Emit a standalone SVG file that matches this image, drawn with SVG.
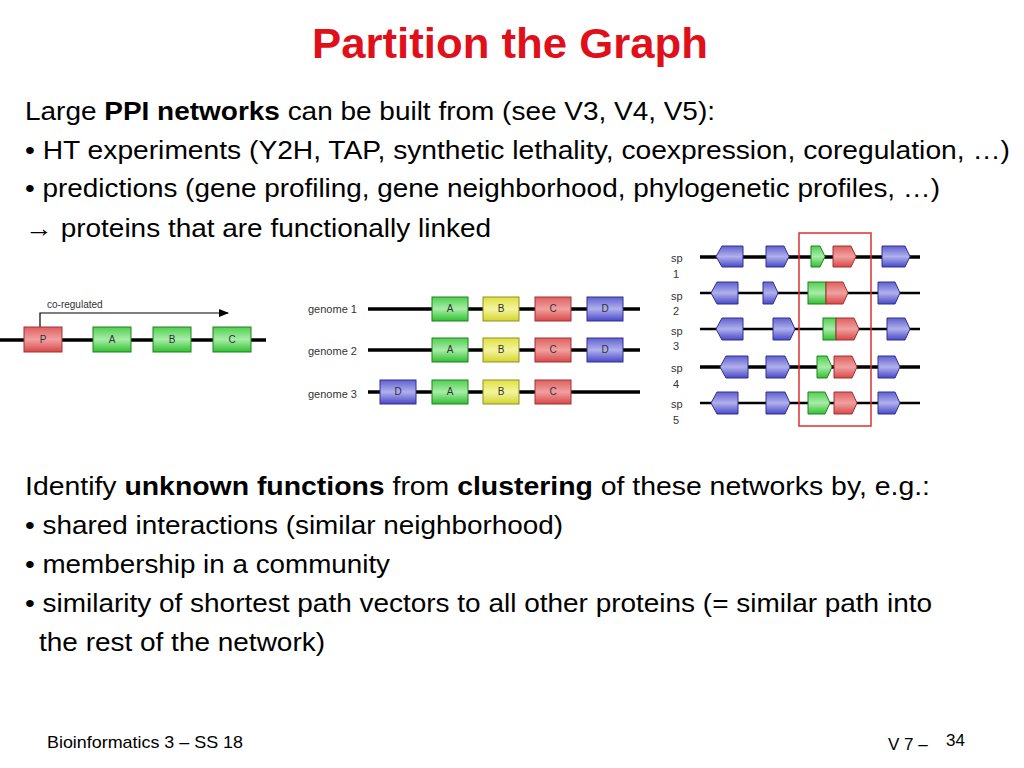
<svg xmlns="http://www.w3.org/2000/svg" width="1024" height="768" viewBox="0 0 1024 768">
<defs>
<linearGradient id="gr" x1="0" y1="0" x2="0" y2="1"><stop offset="0" stop-color="#e06060"/><stop offset="0.5" stop-color="#f0a0a0"/><stop offset="1" stop-color="#d84848"/></linearGradient>
<linearGradient id="gg" x1="0" y1="0" x2="0" y2="1"><stop offset="0" stop-color="#50d050"/><stop offset="0.5" stop-color="#a8eca8"/><stop offset="1" stop-color="#30c030"/></linearGradient>
<linearGradient id="gy" x1="0" y1="0" x2="0" y2="1"><stop offset="0" stop-color="#e0e040"/><stop offset="0.5" stop-color="#f4f4a0"/><stop offset="1" stop-color="#d4d430"/></linearGradient>
<linearGradient id="gb" x1="0" y1="0" x2="0" y2="1"><stop offset="0" stop-color="#6060d0"/><stop offset="0.5" stop-color="#b0b0ec"/><stop offset="1" stop-color="#4848c8"/></linearGradient>
<marker id="ah" markerWidth="10" markerHeight="8" refX="9" refY="4" orient="auto" markerUnits="userSpaceOnUse"><path d="M0,0 L10,4 L0,8z" fill="#000"/></marker>
</defs>
<style>
text{font-family:"Liberation Sans",Arial,sans-serif}
.b{font-size:25px;fill:#000}
.s{font-size:11px;fill:#333}
.gl{font-size:10px;fill:#333;text-anchor:middle}
.ln{stroke:#000;stroke-width:3.5}
.r{fill:url(#gr);stroke:#a03030;stroke-width:1}
.g{fill:url(#gg);stroke:#208020;stroke-width:1}
.y{fill:url(#gy);stroke:#909020;stroke-width:1}
.bl{fill:url(#gb);stroke:#303090;stroke-width:1}
</style>
<rect width="1024" height="768" fill="#fff"/>
<text x="312" y="58" font-size="42" font-weight="bold" fill="#e0101a" textLength="396" lengthAdjust="spacingAndGlyphs">Partition the Graph</text>
<text class="b" x="25" y="120" textLength="690" lengthAdjust="spacingAndGlyphs">Large <tspan font-weight="bold">PPI networks</tspan> can be built from (see V3, V4, V5):</text>
<text class="b" x="25" y="159" textLength="985" lengthAdjust="spacingAndGlyphs">• HT experiments (Y2H, TAP, synthetic lethality, coexpression, coregulation, …)</text>
<text class="b" x="25" y="197" textLength="915" lengthAdjust="spacingAndGlyphs">• predictions (gene profiling, gene neighborhood, phylogenetic profiles, …)</text>
<text class="b" x="25" y="237" textLength="466" lengthAdjust="spacingAndGlyphs">→ proteins that are functionally linked</text>

<g id="coreg">
<line class="ln" x1="0" y1="340" x2="266" y2="340"/>
<path d="M40,327 V313 H228" fill="none" stroke="#000" stroke-width="1.2" marker-end="url(#ah)"/>
<text x="47" y="308" font-size="10" fill="#333">co-regulated</text>
<rect class="r" x="24" y="327" width="38" height="25"/><text class="gl" x="43" y="343">P</text>
<rect class="g" x="93" y="327" width="38" height="25"/><text class="gl" x="112" y="343">A</text>
<rect class="g" x="153" y="327" width="38" height="25"/><text class="gl" x="172" y="343">B</text>
<rect class="g" x="213" y="327" width="38" height="25"/><text class="gl" x="232" y="343">C</text>
</g>
<g id="genomes">
<line class="ln" x1="368" y1="309" x2="640" y2="309"/>
<line class="ln" x1="368" y1="350" x2="640" y2="350"/>
<line class="ln" x1="368" y1="392" x2="640" y2="392"/>
<text class="s" x="308" y="313">genome 1</text>
<text class="s" x="308" y="355">genome 2</text>
<text class="s" x="308" y="398">genome 3</text>
<rect class="g" x="432" y="297" width="36" height="24"/><text class="gl" x="450" y="312">A</text>
<rect class="y" x="483" y="297" width="36" height="24"/><text class="gl" x="501" y="312">B</text>
<rect class="r" x="535" y="297" width="36" height="24"/><text class="gl" x="553" y="312">C</text>
<rect class="bl" x="587" y="297" width="36" height="24"/><text class="gl" x="605" y="312">D</text>
<rect class="g" x="432" y="338" width="36" height="24"/><text class="gl" x="450" y="353">A</text>
<rect class="y" x="483" y="338" width="36" height="24"/><text class="gl" x="501" y="353">B</text>
<rect class="r" x="535" y="338" width="36" height="24"/><text class="gl" x="553" y="353">C</text>
<rect class="bl" x="587" y="338" width="36" height="24"/><text class="gl" x="605" y="353">D</text>
<rect class="bl" x="380" y="380" width="36" height="24"/><text class="gl" x="398" y="395">D</text>
<rect class="g" x="432" y="380" width="36" height="24"/><text class="gl" x="450" y="395">A</text>
<rect class="y" x="483" y="380" width="36" height="24"/><text class="gl" x="501" y="395">B</text>
<rect class="r" x="535" y="380" width="36" height="24"/><text class="gl" x="553" y="395">C</text>
</g>
<g id="species">
<line class="ln" x1="700" y1="257" x2="920" y2="257"/>
<line x1="700" y1="293" x2="920" y2="293" stroke="#000" stroke-width="2.5"/>
<line x1="700" y1="329" x2="920" y2="329" stroke="#000" stroke-width="2.5"/>
<line class="ln" x1="700" y1="367" x2="920" y2="367"/>
<line x1="700" y1="403" x2="920" y2="403" stroke="#000" stroke-width="2.5"/>
<g font-size="11" fill="#333">
<text x="671" y="262">sp</text><text x="673" y="278">1</text>
<text x="671" y="300">sp</text><text x="673" y="315">2</text>
<text x="671" y="335">sp</text><text x="673" y="350">3</text>
<text x="671" y="372">sp</text><text x="673" y="388">4</text>
<text x="671" y="408">sp</text><text x="673" y="424">5</text>
</g>
<path class="bl" d="M722,246 H743 V267 H722 L716,256.5z"/>
<path class="bl" d="M766,246 H784 L789,256.5 L784,267 H766z"/>
<path class="g" d="M811,246 H820 L825,256.5 L820,267 H811z"/>
<path class="r" d="M833,246 H851 L856,256.5 L851,267 H833z"/>
<path class="bl" d="M882,246 H905 L910,256.5 L905,267 H882z"/>
<path class="bl" d="M717,282 H738 V304 H717 L711,293z"/>
<path class="bl" d="M763,282 H773 L778,293 L773,304 H763z"/>
<rect class="g" x="808" y="282" width="18" height="22"/>
<path class="r" d="M826,282 H843 L848,293 L843,304 H826z"/>
<path class="bl" d="M878,282 H895 L900,293 L895,304 H878z"/>
<path class="bl" d="M722,318 H743 V340 H722 L716,329z"/>
<path class="bl" d="M773,318 H790 L795,329 L790,340 H773z"/>
<rect class="g" x="823" y="318" width="13" height="22"/>
<path class="r" d="M836,318 H854 L859,329 L854,340 H836z"/>
<path class="bl" d="M887,318 H905 L910,329 L905,340 H887z"/>
<path class="bl" d="M726,356 H748 V378 H726 L720,367z"/>
<path class="bl" d="M766,356 H785 L790,367 L785,378 H766z"/>
<path class="g" d="M817,356 H827 L832,367 L827,378 H817z"/>
<path class="r" d="M834,356 H852 L857,367 L852,378 H834z"/>
<path class="bl" d="M878,356 H895 L900,367 L895,378 H878z"/>
<path class="bl" d="M717,392 H738 V414 H717 L711,403z"/>
<path class="bl" d="M766,392 H785 L790,403 L785,414 H766z"/>
<path class="g" d="M808,392 H825 L830,403 L825,414 H808z"/>
<path class="r" d="M834,392 H852 L857,403 L852,414 H834z"/>
<path class="bl" d="M878,392 H895 L900,403 L895,414 H878z"/>
<rect x="799" y="233" width="72" height="193" fill="none" stroke="#e03030" stroke-width="1.5"/>
</g>

<text class="b" x="25" y="495" textLength="905" lengthAdjust="spacingAndGlyphs">Identify <tspan font-weight="bold">unknown functions</tspan> from <tspan font-weight="bold">clustering</tspan> of these networks by, e.g.:</text>
<text class="b" x="25" y="534" textLength="538" lengthAdjust="spacingAndGlyphs">• shared interactions (similar neighborhood)</text>
<text class="b" x="25" y="573" textLength="365" lengthAdjust="spacingAndGlyphs">• membership in a community</text>
<text class="b" x="25" y="612" textLength="907" lengthAdjust="spacingAndGlyphs">• similarity of shortest path vectors to all other proteins (= similar path into</text>
<text class="b" x="39" y="651" textLength="286" lengthAdjust="spacingAndGlyphs">the rest of the network)</text>
<text x="47" y="748" font-size="17" textLength="196" lengthAdjust="spacingAndGlyphs">Bioinformatics 3 – SS 18</text>
<text x="888" y="750" font-size="17">V 7  –</text>
<text x="946" y="746" font-size="17">34</text>
</svg>
